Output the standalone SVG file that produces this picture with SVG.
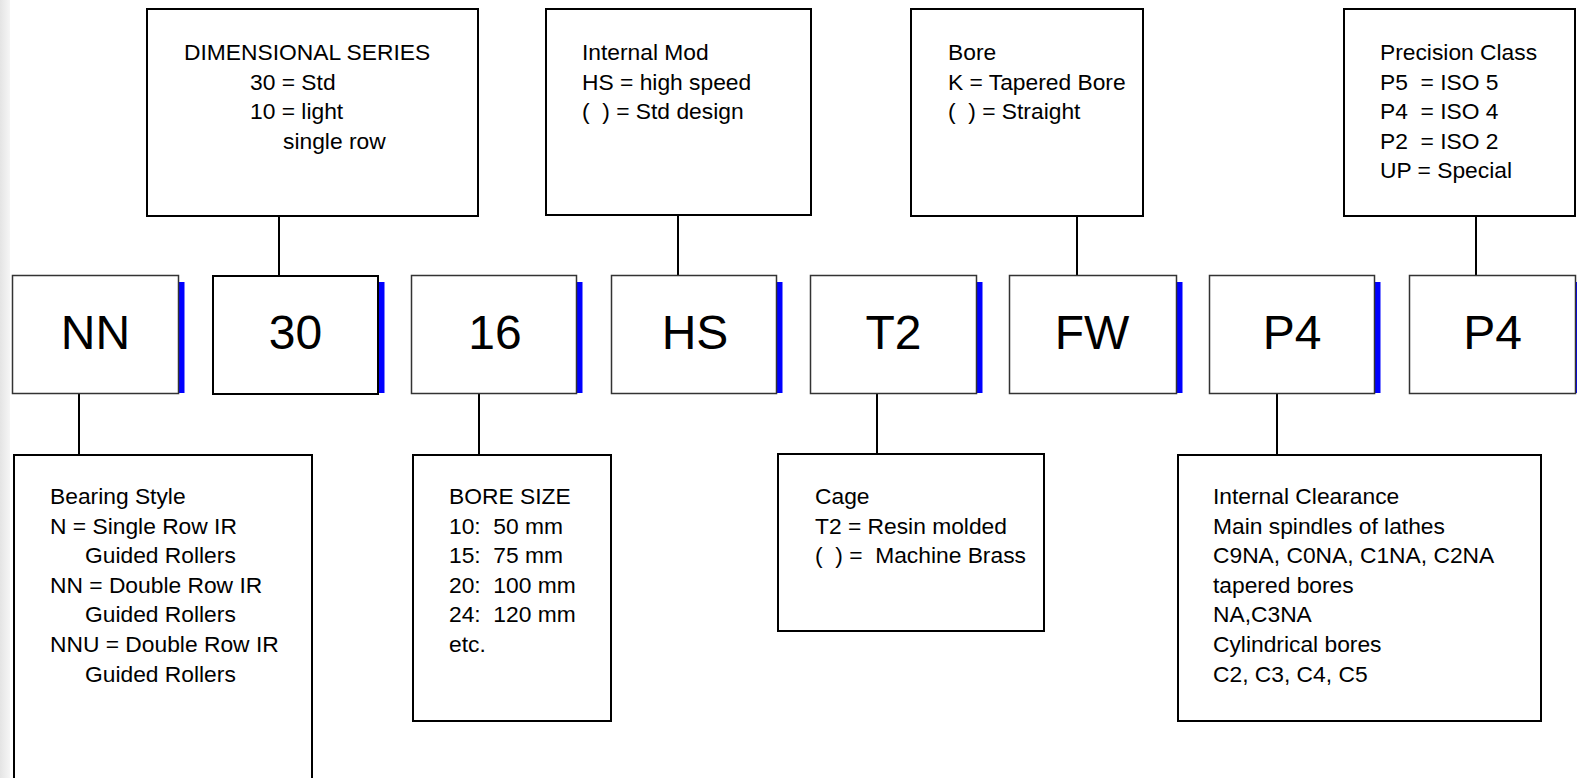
<svg xmlns="http://www.w3.org/2000/svg" width="1577" height="778" viewBox="0 0 1577 778" xml:space="preserve">
<defs>
<linearGradient id="edge" x1="0" y1="0" x2="1" y2="0">
<stop offset="0" stop-color="#e4e4e4"/>
<stop offset="1" stop-color="#f6f6f6"/>
</linearGradient>
</defs>
<style>
.info{fill:#fff;stroke:#000;stroke-width:2}
.code{fill:#fff;stroke:#333;stroke-width:1.5}
.codeb{fill:#fff;stroke:#000;stroke-width:2}
.bar{fill:#0000ff}
.t{font-family:"Liberation Sans",Arial,sans-serif;font-size:22.8px;fill:#000;white-space:pre}
.big{font-family:"Liberation Sans",Arial,sans-serif;font-size:48px;fill:#000;text-anchor:middle}
.conn line{stroke:#000;stroke-width:2}
</style>
<rect width="1577" height="778" fill="#fff"/>
<rect x="0" y="0" width="10" height="778" fill="url(#edge)"/>

<g id="connectors" class="conn">
<line x1="279" y1="217" x2="279" y2="275"/>
<line x1="678" y1="216" x2="678" y2="275"/>
<line x1="1077" y1="217" x2="1077" y2="275"/>
<line x1="1476" y1="217" x2="1476" y2="275"/>
<line x1="79" y1="394" x2="79" y2="454"/>
<line x1="479" y1="394" x2="479" y2="454"/>
<line x1="877" y1="394" x2="877" y2="453"/>
<line x1="1277" y1="394" x2="1277" y2="454"/>
</g>

<g id="dimensional-series">
<rect class="info" x="147" y="9" width="331" height="207"/>
<text class="t" x="184" y="60">DIMENSIONAL SERIES</text>
<text class="t" x="250" y="89.6">30 = Std</text>
<text class="t" x="250" y="119.2">10 = light</text>
<text class="t" x="283" y="148.8">single row</text>
</g>

<g id="internal-mod">
<rect class="info" x="546" y="9" width="265" height="206"/>
<text class="t" x="582" y="60">Internal Mod</text>
<text class="t" x="582" y="89.6">HS = high speed</text>
<text class="t" x="582" y="119.2">(  ) = Std design</text>
</g>

<g id="bore">
<rect class="info" x="911" y="9" width="232" height="207"/>
<text class="t" x="948" y="60">Bore</text>
<text class="t" x="948" y="89.6">K = Tapered Bore</text>
<text class="t" x="948" y="119.2">(  ) = Straight</text>
</g>

<g id="precision-class">
<rect class="info" x="1344" y="9" width="231" height="207"/>
<text class="t" x="1380" y="60">Precision Class</text>
<text class="t" x="1380" y="89.6">P5  = ISO 5</text>
<text class="t" x="1380" y="119.2">P4  = ISO 4</text>
<text class="t" x="1380" y="148.8">P2  = ISO 2</text>
<text class="t" x="1380" y="178.4">UP = Special</text>
</g>

<g id="code-nn">
<rect class="bar" x="179" y="282" width="5.5" height="111"/>
<rect class="code" x="12.5" y="275.5" width="166" height="118"/>
<text class="big" x="95.5" y="349">NN</text>
</g>
<g id="code-30">
<rect class="bar" x="379" y="282" width="5.5" height="111"/>
<rect class="codeb" x="213" y="276" width="165" height="118"/>
<text class="big" x="295.5" y="349">30</text>
</g>
<g id="code-16">
<rect class="bar" x="577" y="282" width="5.5" height="111"/>
<rect class="code" x="411.5" y="275.5" width="165" height="118"/>
<text class="big" x="495" y="349">16</text>
</g>
<g id="code-hs">
<rect class="bar" x="777" y="282" width="5.5" height="111"/>
<rect class="code" x="611.5" y="275.5" width="165" height="118"/>
<text class="big" x="695" y="349">HS</text>
</g>
<g id="code-t2">
<rect class="bar" x="977" y="282" width="5.5" height="111"/>
<rect class="code" x="810.5" y="275.5" width="166" height="118"/>
<text class="big" x="893.5" y="349">T2</text>
</g>
<g id="code-fw">
<rect class="bar" x="1177" y="282" width="5.5" height="111"/>
<rect class="code" x="1009.5" y="275.5" width="167" height="118"/>
<text class="big" x="1092" y="349">FW</text>
</g>
<g id="code-p4-a">
<rect class="bar" x="1375" y="282" width="5.5" height="111"/>
<rect class="code" x="1209.5" y="275.5" width="165" height="118"/>
<text class="big" x="1292" y="349">P4</text>
</g>
<g id="code-p4-b">
<rect class="bar" x="1576" y="282" width="5.5" height="111"/>
<rect class="code" x="1409.5" y="275.5" width="166" height="118"/>
<text class="big" x="1492.5" y="349">P4</text>
</g>

<g id="bearing-style">
<rect class="info" x="14" y="455" width="298" height="400"/>
<text class="t" x="50" y="504">Bearing Style</text>
<text class="t" x="50" y="533.6">N = Single Row IR</text>
<text class="t" x="85" y="563.2">Guided Rollers</text>
<text class="t" x="50" y="592.8">NN = Double Row IR</text>
<text class="t" x="85" y="622.4">Guided Rollers</text>
<text class="t" x="50" y="652">NNU = Double Row IR</text>
<text class="t" x="85" y="681.6">Guided Rollers</text>
</g>

<g id="bore-size">
<rect class="info" x="413" y="455" width="198" height="266"/>
<text class="t" x="449" y="504">BORE SIZE</text>
<text class="t" x="449" y="533.6">10:  50 mm</text>
<text class="t" x="449" y="563.2">15:  75 mm</text>
<text class="t" x="449" y="592.8">20:  100 mm</text>
<text class="t" x="449" y="622.4">24:  120 mm</text>
<text class="t" x="449" y="652">etc.</text>
</g>

<g id="cage">
<rect class="info" x="778" y="454" width="266" height="177"/>
<text class="t" x="815" y="504">Cage</text>
<text class="t" x="815" y="533.6">T2 = Resin molded</text>
<text class="t" x="815" y="563.2">(  ) =  Machine Brass</text>
</g>

<g id="internal-clearance">
<rect class="info" x="1178" y="455" width="363" height="266"/>
<text class="t" x="1213" y="504">Internal Clearance</text>
<text class="t" x="1213" y="533.6">Main spindles of lathes</text>
<text class="t" x="1213" y="563.2">C9NA, C0NA, C1NA, C2NA</text>
<text class="t" x="1213" y="592.8">tapered bores</text>
<text class="t" x="1213" y="622.4">NA,C3NA</text>
<text class="t" x="1213" y="652">Cylindrical bores</text>
<text class="t" x="1213" y="681.6">C2, C3, C4, C5</text>
</g>
</svg>
